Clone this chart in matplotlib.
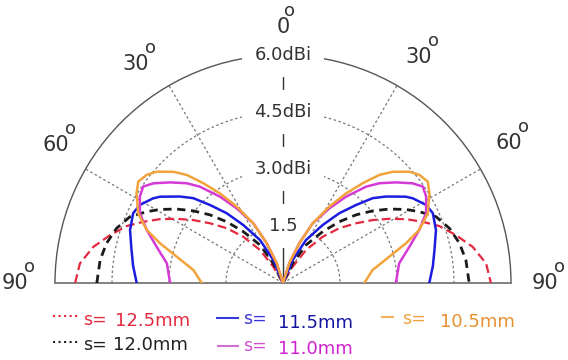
import numpy as np
import matplotlib
matplotlib.use("Agg")
import matplotlib.pyplot as plt
from matplotlib.lines import Line2D

W, H = 568, 360

# radiation patterns, one half (angle from broadside in degrees, gain radius in dBi)
# the pattern is symmetric, the other half is the mirror image
th_125 = [90, 84.5, 79.2, 74.5, 70, 66.3, 62.6, 58.9, 54.9, 50.7, 45.8, 40.6, 34.9, 30.8, 27, 0]
r_125 = [5.47, 5.37, 5.08, 4.72, 4.38, 4.01, 3.65, 3.27, 2.88, 2.48, 2.07, 1.60, 1.06, 0.50, 0, 0]

th_120 = [90, 82.8, 77.3, 71.8, 66.6, 62.4, 59.1, 55.2, 51.2, 47, 42.6, 37.7, 31.2, 26.2, 22, 0]
r_120 = [4.90, 4.85, 4.76, 4.61, 4.39, 4.05, 3.77, 3.41, 3.03, 2.63, 2.19, 1.71, 1.17, 0.58, 0, 0]

th_115 = [90, 83.5, 77.7, 70.9, 65, 61.4, 56.9, 54.9, 50, 46.6, 43.1, 38.9, 34.4, 28.1, 22.9, 18, 0]
r_115 = [3.85, 3.97, 4.08, 4.26, 4.35, 4.29, 4.08, 3.95, 3.54, 3.25, 2.81, 2.36, 1.85, 1.28, 0.66, 0, 0]

th_110 = [90, 80.4, 74, 68.7, 64, 58.9, 55.4, 52.4, 48.3, 44, 40.8, 36.1, 31.8, 26.4, 22.3, 17.7, 14, 0]
r_110 = [2.97, 3.10, 3.46, 3.85, 4.19, 4.40, 4.47, 4.30, 3.98, 3.65, 3.35, 2.81, 2.31, 1.75, 1.13, 0.54, 0, 0]

th_105 = [90, 81.8, 76.1, 72.1, 68.7, 64.3, 58.5, 55, 51.6, 48.6, 44.6, 41.7, 38.6, 35.1, 31.2,
          26.4, 22.3, 17.5, 14, 0]
r_105 = [2.14, 2.38, 2.88, 3.40, 3.85, 4.23, 4.52, 4.65, 4.58, 4.43, 4.11, 3.81, 3.36, 2.88, 2.35,
         1.75, 1.13, 0.55, 0, 0]

ring_vals = [1.5, 3.0, 4.5]
ring_labels = ["1.5", "3.0dBi", "4.5dBi", "6.0dBi"]
ring_label_r = [1.5, 3.0, 4.5, 6.0]
spoke_angles = [-60, -30, 30, 60]
angle_texts = ["90", "60", "30", "0", "30", "60", "90"]

series = [
    ("12.5mm", th_125, r_125, "#e4283f", (0, (4, 2)), 1.6),
    ("12.0mm", th_120, r_120, "#1a1a1a", (0, (3, 2)), 2.0),
    ("11.5mm", th_115, r_115, "#1c1ce0", "-", 1.8),
    ("11.0mm", th_110, r_110, "#d63ad6", "-", 1.8),
    ("10.5mm", th_105, r_105, "#f2a33a", "-", 1.8),
]

plt.rcParams["font.family"] = "DejaVu Sans"

fig = plt.figure(figsize=(W / 100, H / 100), dpi=100, facecolor="white")
# square box; the half disc sits in its middle (centre at x=283, baseline y=283, R=228 px)
R = 228
cx, cy = 283, 283 - R / 2
ax = fig.add_axes([(cx - R) / W, 1 - (cy + R) / H, 2 * R / W, 2 * R / H], projection="polar")
ax.set_theta_zero_location("N")
ax.set_theta_direction(-1)
ax.set_thetamin(-90)
ax.set_thetamax(90)
ax.set_ylim(0, 6)
ax.set_xticks([])
ax.set_yticks([])
ax.grid(False)
ax.spines["polar"].set(color="#555555", lw=1.0)
for k in ("start", "end"):
    ax.spines[k].set(color="#777777", lw=1.3)
ax.spines["inner"].set_visible(False)

# dotted grid
tt = np.radians(np.linspace(-90, 90, 300))
for rv in ring_vals:
    ax.plot(tt, np.full_like(tt, rv), color="#777777", lw=0.9, ls=(0, (2, 2)), zorder=1)
for a in spoke_angles:
    ax.plot([np.radians(a)] * 2, [0, 6], color="#777777", lw=0.9, ls=(0, (2, 2)), zorder=1)
ax.plot([0, 0], [0, 6], color="#333333", lw=1.0, zorder=1)

for lab, rr in zip(ring_labels, ring_label_r):
    ax.text(0, rr, lab, ha="center", va="center", fontsize=13, color="#333333", zorder=3,
            bbox=dict(boxstyle="square,pad=0.7", fc="white", ec="none"))

# angle labels: digits plus a raised small "o" as degree sign
lab_pos = [(-90, 7.05), (-58.8, 7.0), (-34, 6.94), (0, 6.74), (31, 6.94), (58.2, 7.0), (90, 6.9)]
for (a, rr), s in zip(lab_pos, angle_texts):
    ax.text(np.radians(a), rr, s, ha="center", va="center", fontsize=15, color="#333333")
    off = 5 if len(s) == 1 else 10.5
    ax.annotate("o", xy=(np.radians(a), rr), xytext=(off, 11.5), textcoords="offset points",
                ha="center", va="center", fontsize=13, color="#333333", annotation_clip=False)

for lab, th, r, c, ls, lw in series:
    th = np.asarray(th, float)
    r = np.asarray(r, float)
    ang = np.concatenate([-th, th[::-1]])
    rad = np.concatenate([r, r[::-1]])
    ax.plot(np.radians(ang), rad, color=c, ls=ls, lw=lw, zorder=4)

# legend drawn by hand
def px(x, y):
    return x / W, 1 - y / H

leg = [
    # line x0, x1, line y, s= x, s= y, value x, value y, line style, line colour, s colour, value colour
    (53, 78, 316, 83, 320, 115, 321, ":", "#e4283f", "#e4283f", "#e4283f", "12.5mm"),
    (53, 78, 342, 83, 345, 113, 345, ":", "#222222", "#222222", "#222222", "12.0mm"),
    (217, 238, 318, 243, 319, 278, 323, "-", "#3a3adb", "#3a3adb", "#1414a0", "11.5mm"),
    (218, 238, 346, 243, 346, 278, 349, "-", "#d070d0", "#d050d0", "#d020d0", "11.0mm"),
    (382, 393, 317, 402, 319, 440, 322, "-", "#f0b060", "#f0a040", "#e89030", "10.5mm"),
]
for x0, x1, ly, sx, sy, vx, vy, ls, lc, sc, vc, val in leg:
    a0, b0 = px(x0, ly)
    a1, _ = px(x1, ly)
    fig.add_artist(Line2D([a0, a1], [b0, b0], transform=fig.transFigure, color=lc, ls=ls, lw=1.5))
    fig.text(*px(sx, sy), "s=", ha="left", va="center", fontsize=12.5, color=sc)
    fig.text(*px(vx, vy), val, ha="left", va="center", fontsize=13, color=vc)

fig.savefig("out.png", dpi=100, facecolor="white")
